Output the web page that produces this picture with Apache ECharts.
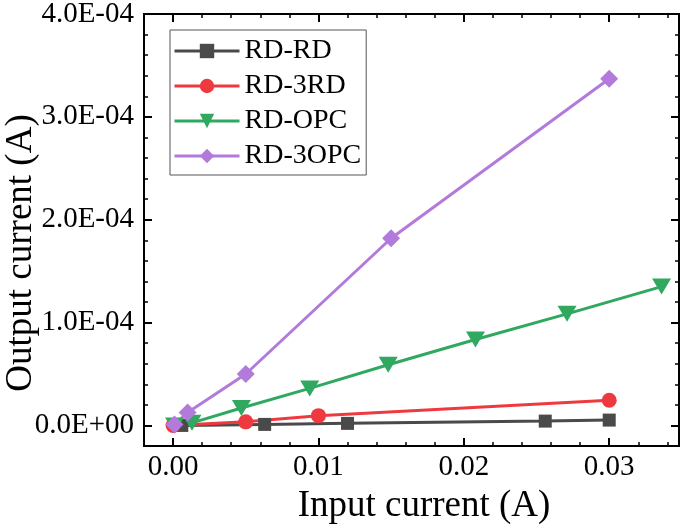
<!DOCTYPE html>
<html>
<head>
<meta charset="utf-8">
<script src="https://cdn.jsdelivr.net/npm/echarts@6/dist/echarts.min.js"></script>
<style>
html,body{margin:0;padding:0;background:#fff;}
#c{width:685px;height:530px;}
</style>
</head>
<body>
<div id="c"></div>
<script>
// ---- data ----
const seriesNames = ['RD-RD', 'RD-3RD', 'RD-OPC', 'RD-3OPC'];
const rdRdX = [0.0006, 0.0063, 0.012, 0.0256, 0.030];
const rdRdY = [0, 0.1e-5, 0.2e-5, 0.42e-5, 0.52e-5];
const rd3RdX = [0, 0.005, 0.010, 0.030];
const rd3RdY = [0, 0.35e-5, 0.95e-5, 2.45e-5];
const rdOpcX = [0.0001, 0.0013, 0.0047, 0.0094, 0.0148, 0.0208, 0.0271, 0.0336];
const rdOpcY = [0, 0.25e-5, 1.7e-5, 3.6e-5, 5.9e-5, 8.35e-5, 10.85e-5, 13.5e-5];
const rd3OpcX = [0.0001, 0.001, 0.005, 0.015, 0.030];
const rd3OpcY = [0.1e-5, 1.25e-5, 5.0e-5, 18.2e-5, 33.7e-5];

// ---- axis ticks ----
const xMajorTicks = [0, 0.01, 0.02, 0.03];
const xMinorTicks = [-0.002, 0.002, 0.004, 0.006, 0.008, 0.012, 0.014, 0.016, 0.018, 0.022, 0.024, 0.026, 0.028, 0.032, 0.034];
const yMajorTicks = [0, 1e-4, 2e-4, 3e-4, 4e-4];
const yMinorTicks = [-2e-5, 2e-5, 4e-5, 6e-5, 8e-5, 1.2e-4, 1.4e-4, 1.6e-4, 1.8e-4, 2.2e-4, 2.4e-4, 2.6e-4, 2.8e-4, 3.2e-4, 3.4e-4, 3.6e-4, 3.8e-4];
const xMin = -0.002, xMax = 0.0348;
const yMin = -2e-5, yMax = 4e-4;

const FONT = '"Liberation Serif", "Times New Roman", serif';
const colors = ['#4a4a4a', '#ee3a3f', '#30a860', '#b27bdb'];

function zip(xs, ys) { return xs.map((x, i) => [x, ys[i]]); }
function sci(v) {
  const s = Number(v).toExponential(1);
  const parts = s.split('e');
  const sign = parts[1][0] === '-' ? '-' : '+';
  let e = parts[1].replace(/^[+-]/, '');
  if (e.length < 2) e = '0' + e;
  return parts[0] + 'E' + sign + e;
}
function xfmt(v) { return Number(v).toFixed(2); }

function xAxisDef(pos, ticks, len, width, showLabel, extra) {
  return Object.assign({
    type: 'value', position: pos, min: xMin, max: xMax,
    axisLine: { show: true, onZero: false, lineStyle: { color: '#000', width: 2 } },
    axisTick: { show: true, inside: true, length: len, customValues: ticks, lineStyle: { color: '#000', width: width } },
    axisLabel: showLabel ? { show: true, customValues: ticks, formatter: xfmt, fontFamily: FONT, fontSize: 29, color: '#000', margin: 7 } : { show: false },
    splitLine: { show: false }
  }, extra || {});
}
function yAxisDef(pos, ticks, len, width, showLabel, extra) {
  return Object.assign({
    type: 'value', position: pos, min: yMin, max: yMax,
    axisLine: { show: true, onZero: false, lineStyle: { color: '#000', width: 2 } },
    axisTick: { show: true, inside: true, length: len, customValues: ticks, lineStyle: { color: '#000', width: width } },
    axisLabel: showLabel ? { show: true, customValues: ticks, formatter: sci, fontFamily: FONT, fontSize: 29, color: '#000', margin: 10 } : { show: false },
    splitLine: { show: false }
  }, extra || {});
}

const chart = echarts.init(document.getElementById('c'), null, { renderer: 'canvas' });
chart.setOption({
  animation: false,
  backgroundColor: '#fff',
  grid: { left: 144, right: 6, top: 14, bottom: 84, containLabel: false, outerBoundsMode: 'none' },
  legend: {
    orient: 'vertical', left: 170, top: 30,
    itemWidth: 65, itemHeight: 18, itemGap: 7,
    padding: [7, 5, 5, 3],
    borderColor: '#555', borderWidth: 1,
    lineStyle: { width: 3 },
    textStyle: { fontFamily: FONT, fontSize: 28, color: '#000' },
    data: seriesNames
  },
  xAxis: [
    xAxisDef('bottom', xMajorTicks, 8, 2, true, {
      name: 'Input current (A)', nameLocation: 'middle', nameGap: 42, nameMoveOverlap: false,
      nameTextStyle: { fontFamily: FONT, fontSize: 37, color: '#000', padding: [0, 0, 0, 25] }
    }),
    xAxisDef('bottom', xMinorTicks, 4, 1.5, false),
    xAxisDef('top', xMajorTicks, 8, 2, false),
    xAxisDef('top', xMinorTicks, 4, 1.5, false)
  ],
  yAxis: [
    yAxisDef('left', yMajorTicks, 8, 2, true, {
      name: 'Output current (A)', nameLocation: 'middle', nameGap: 104, nameMoveOverlap: false,
      nameTextStyle: { fontFamily: FONT, fontSize: 37, color: '#000', padding: [0, 46, 0, 0] }
    }),
    yAxisDef('left', yMinorTicks, 4, 1.5, false),
    yAxisDef('right', yMajorTicks, 8, 2, false),
    yAxisDef('right', yMinorTicks, 4, 1.5, false)
  ],
  series: [
    { name: seriesNames[0], type: 'line', data: zip(rdRdX, rdRdY), symbol: 'rect', symbolSize: 13,
      itemStyle: { color: colors[0] }, lineStyle: { color: colors[0], width: 3 } },
    { name: seriesNames[1], type: 'line', data: zip(rd3RdX, rd3RdY), symbol: 'circle', symbolSize: 15,
      itemStyle: { color: colors[1] }, lineStyle: { color: colors[1], width: 3 } },
    { name: seriesNames[2], type: 'line', data: zip(rdOpcX, rdOpcY), symbol: 'triangle', symbolRotate: 180, symbolSize: [19, 16],
      itemStyle: { color: colors[2] }, lineStyle: { color: colors[2], width: 3 } },
    { name: seriesNames[3], type: 'line', data: zip(rd3OpcX, rd3OpcY), symbol: 'diamond', symbolSize: 18,
      itemStyle: { color: colors[3] }, lineStyle: { color: colors[3], width: 3 } }
  ]
});
</script>
</body>
</html>
